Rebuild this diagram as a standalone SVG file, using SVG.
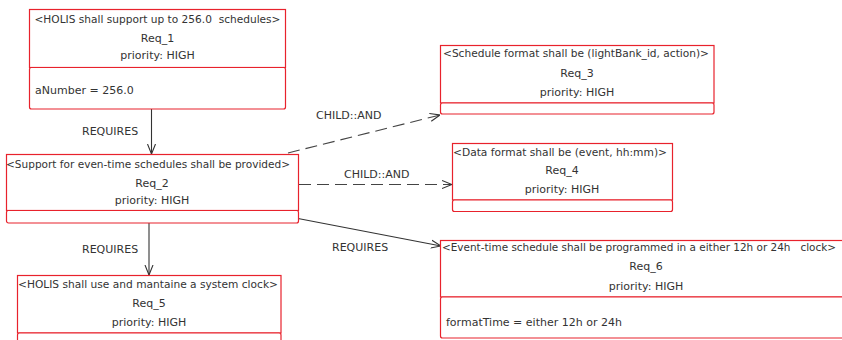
<svg xmlns="http://www.w3.org/2000/svg" width="842" height="340" viewBox="0 0 842 340">
  <style>
    .box { fill: #ffffff; stroke: #e8222c; stroke-width: 1.2; }
    .cmp { fill: #ffffff; stroke: #e8222c; stroke-width: 1.2; }
    .t { font-family: "DejaVu Sans", Verdana, sans-serif; font-size: 11px; fill: #333333; white-space: pre; }
    .n { font-family: "DejaVu Sans Condensed", "DejaVu Sans", sans-serif; }
    .c { text-anchor: middle; }
    .edge { fill: none; stroke: #333333; stroke-width: 1.1; }
    .dash { stroke-dasharray: 12 6; stroke: #444444; }
  </style>
  <defs>
    <marker id="arrow" viewBox="0 0 10 10" refX="10" refY="5" markerWidth="10" markerHeight="10" markerUnits="userSpaceOnUse" orient="auto">
      <path d="M0,1 L10,5 L0,9" fill="none" stroke="#333333" stroke-width="1.1"/>
    </marker>
  </defs>

  <!-- connectors -->
  <g id="connectors">
    <line class="edge" x1="151.5" y1="109" x2="151.5" y2="154" marker-end="url(#arrow)"/>
    <line class="edge" x1="149" y1="223" x2="149" y2="275" marker-end="url(#arrow)"/>
    <line class="edge dash" x1="288" y1="153" x2="440" y2="115" marker-end="url(#arrow)"/>
    <line class="edge dash" x1="299" y1="184.5" x2="452" y2="184.5" marker-end="url(#arrow)"/>
    <line class="edge" x1="298" y1="218.5" x2="441" y2="246" marker-end="url(#arrow)"/>
    <text class="t" x="82" y="135">REQUIRES</text>
    <text class="t" x="82" y="253">REQUIRES</text>
    <text class="t" x="332" y="251">REQUIRES</text>
    <text class="t" x="316" y="119">CHILD::AND</text>
    <text class="t" x="344" y="178">CHILD::AND</text>
  </g>

  <!-- Req_1 -->
  <g id="req1">
    <rect class="box" x="29.5" y="9.5" width="256" height="58"/>
    <rect class="cmp" x="29.5" y="67.5" width="256" height="41.5" rx="2"/>
    <text class="t c" x="157.5" y="23" textLength="246" lengthAdjust="spacingAndGlyphs">&lt;HOLIS shall support up to 256.0  schedules&gt;</text>
    <text class="t c" x="157.5" y="42">Req_1</text>
    <text class="t c" x="157.5" y="59">priority: HIGH</text>
    <text class="t" x="35" y="94">aNumber = 256.0</text>
  </g>

  <!-- Req_2 -->
  <g id="req2">
    <rect class="box" x="6.5" y="154.5" width="292" height="56"/>
    <rect class="cmp" x="6.5" y="210.5" width="292" height="12.5" rx="2"/>
    <text class="t c" x="148" y="168" textLength="284" lengthAdjust="spacingAndGlyphs">&lt;Support for even-time schedules shall be provided&gt;</text>
    <text class="t c" x="152" y="187">Req_2</text>
    <text class="t c" x="152" y="204">priority: HIGH</text>
  </g>

  <!-- Req_3 -->
  <g id="req3">
    <rect class="box" x="440.5" y="45.5" width="273.5" height="57.5"/>
    <rect class="cmp" x="440.5" y="103" width="273.5" height="11" rx="2"/>
    <text class="t c" x="576" y="57" textLength="266" lengthAdjust="spacingAndGlyphs">&lt;Schedule format shall be (lightBank_id, action)&gt;</text>
    <text class="t c" x="577" y="77">Req_3</text>
    <text class="t c" x="577" y="96">priority: HIGH</text>
  </g>

  <!-- Req_4 -->
  <g id="req4">
    <rect class="box" x="452.5" y="143.5" width="220" height="56.5"/>
    <rect class="cmp" x="452.5" y="200" width="220" height="11.5" rx="2"/>
    <text class="t c" x="560" y="156" textLength="214" lengthAdjust="spacingAndGlyphs">&lt;Data format shall be (event, hh:mm)&gt;</text>
    <text class="t c" x="562" y="174">Req_4</text>
    <text class="t c" x="562" y="193">priority: HIGH</text>
  </g>

  <!-- Req_5 -->
  <g id="req5">
    <rect class="box" x="17.5" y="275.5" width="263.5" height="57.5"/>
    <rect class="cmp" x="17.5" y="333" width="263.5" height="20" rx="2"/>
    <text class="t c" x="148" y="288" textLength="260" lengthAdjust="spacingAndGlyphs">&lt;HOLIS shall use and mantaine a system clock&gt;</text>
    <text class="t c" x="149" y="307">Req_5</text>
    <text class="t c" x="149" y="326">priority: HIGH</text>
  </g>

  <!-- Req_6 (runs past the right edge) -->
  <g id="req6">
    <rect class="box" x="440.5" y="240.5" width="410" height="56.5"/>
    <rect class="cmp" x="440.5" y="297" width="410" height="41" rx="2"/>
    <text class="t n c" x="639" y="251" textLength="394" lengthAdjust="spacingAndGlyphs">&lt;Event-time schedule shall be programmed in a either 12h or 24h   clock&gt;</text>
    <text class="t c" x="646" y="270">Req_6</text>
    <text class="t c" x="646" y="290">priority: HIGH</text>
    <text class="t" x="446" y="326">formatTime = either 12h or 24h</text>
  </g>
</svg>
